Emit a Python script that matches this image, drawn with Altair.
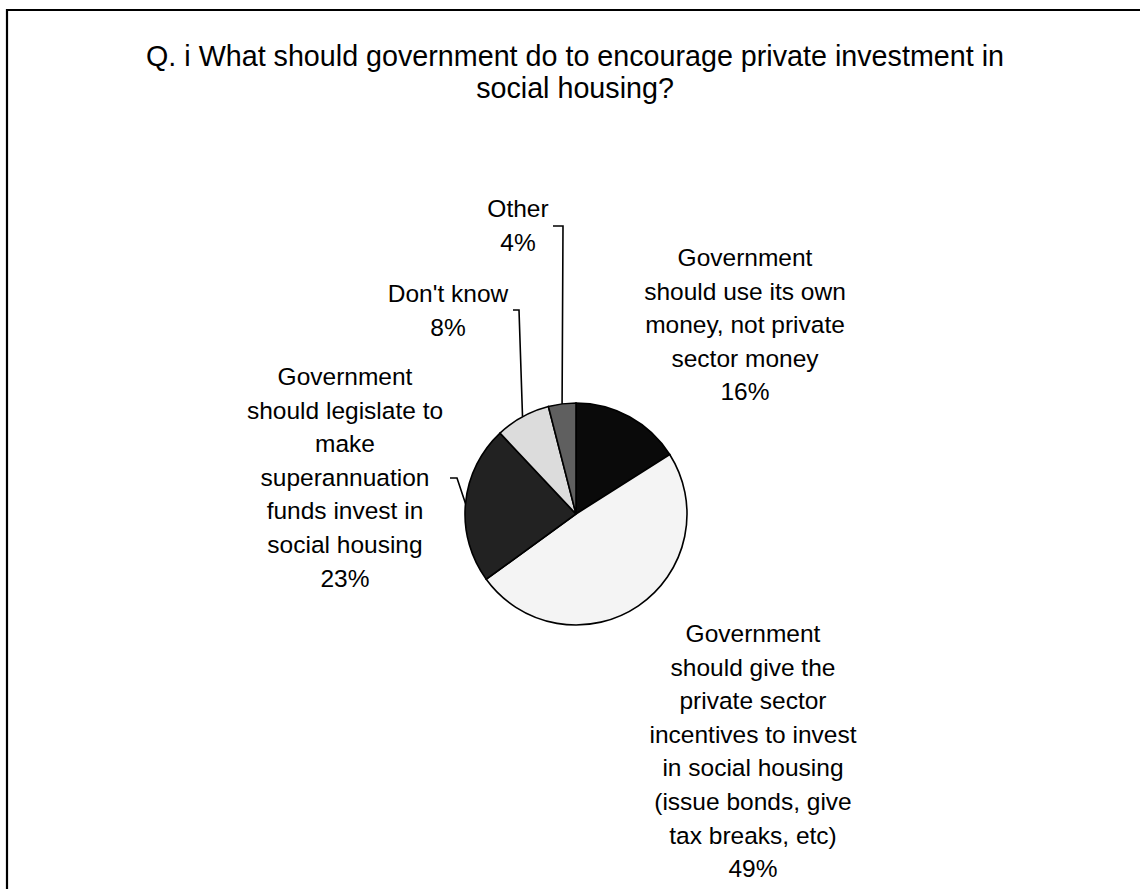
import math
import altair as alt
import pandas as pd

# Survey answers, clockwise from 12 o'clock
categories = [
    "Government should use its own money, not private sector money",
    "Government should give the private sector incentives to invest in social housing (issue bonds, give tax breaks, etc)",
    "Government should legislate to make superannuation funds invest in social housing",
    "Don't know",
    "Other",
]
shares = [16, 49, 23, 8, 4]
label_lines = [
    ["Government", "should use its own", "money, not private", "sector money"],
    ["Government", "should give the", "private sector", "incentives to invest",
     "in social housing", "(issue bonds, give", "tax breaks, etc)"],
    ["Government", "should legislate to", "make", "superannuation",
     "funds invest in", "social housing"],
    ["Don't know"],
    ["Other"],
]
slice_colors = ["#0a0a0a", "#f4f4f4", "#222222", "#dcdcdc", "#5f5f5f"]
title_lines = [
    "Q. i What should government do to encourage private investment in",
    "social housing?",
]

# ---- layout (pixels) ----
W, H = 1140, 889
CX, CY, R = 576, 514, 111
FONT = "Liberation Sans"
label_anchor = {          # centre of the first line of each label
    0: (745, 259),
    1: (753, 635),
    2: (345, 378),
    3: (448, 295),
    4: (518, 210),
}
leader_elbows = {         # label end and bend of each leader line
    2: [(450, 478), (457, 478)],
    3: [(513, 310), (519, 310)],
    4: [(553, 226), (563, 226)],
}

df = pd.DataFrame({"category": categories, "value": shares,
                   "order": list(range(len(categories)))})

# label table
total = sum(shares)
rows, lead_rows = [], []
cum = 0
for i, (lines, v) in enumerate(zip(label_lines, shares)):
    mid = (cum + v / 2) / total * 2 * math.pi
    cum += v
    ax, ay = label_anchor[i]
    rows.append({"text": "\n".join(lines + [f"{v}%"]), "x": ax, "y": ay})
    if i in leader_elbows:
        pts = leader_elbows[i] + [(CX + R * math.sin(mid), CY - R * math.cos(mid))]
        for k, (px, py) in enumerate(pts):
            lead_rows.append({"id": i, "seq": k, "x": px, "y": py})
labels_df = pd.DataFrame(rows)
leads_df = pd.DataFrame(lead_rows)

pie = alt.Chart(df).mark_arc(outerRadius=R, stroke="black", strokeWidth=1.6).encode(
    theta=alt.Theta("value:Q", stack=True),
    color=alt.Color("category:N", scale=alt.Scale(domain=categories, range=slice_colors),
                    legend=None),
    order=alt.Order("order:Q"),
    x=alt.value(CX),
    y=alt.value(CY),
)

labels = alt.Chart(labels_df).mark_text(
    font=FONT, fontSize=24.5, lineBreak="\n", lineHeight=33.6,
    align="center", baseline="middle", color="black",
).encode(
    x=alt.X("x:Q", scale=None),
    y=alt.Y("y:Q", scale=None),
    text="text:N",
)

leaders = alt.Chart(leads_df).mark_line(color="black", strokeWidth=1.6).encode(
    x=alt.X("x:Q", scale=None),
    y=alt.Y("y:Q", scale=None),
    detail="id:N",
    order="seq:Q",
)

title = alt.Chart(pd.DataFrame({"t": ["\n".join(title_lines)]})).mark_text(
    font=FONT, fontSize=28.7, lineBreak="\n", lineHeight=31.5,
    align="center", baseline="middle", color="black",
).encode(x=alt.value(575), y=alt.value(57), text="t:N")

frame = alt.Chart(pd.DataFrame({"f": [0]})).mark_rect(
    fill=None, stroke="black", strokeWidth=2.2,
).encode(x=alt.value(7), y=alt.value(10), x2=alt.value(W + 20), y2=alt.value(H + 20))

chart = alt.layer(frame, title, pie, leaders, labels).properties(
    width=W, height=H, padding=0,
    autosize=alt.AutoSizeParams(type="none"),
    background="white",
).configure_view(stroke=None)

chart.save("out.html", embed_options={"renderer": "svg", "actions": False})
